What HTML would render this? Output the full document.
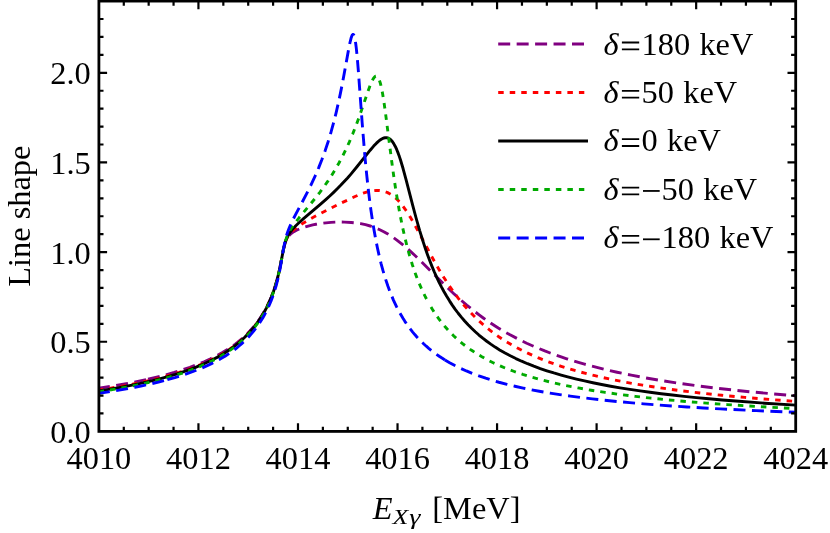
<!DOCTYPE html>
<html><head><meta charset="utf-8"><title>Line shape</title>
<style>
html,body{margin:0;padding:0;background:#fff;}
body{width:830px;height:533px;overflow:hidden;}
svg{display:block;will-change:transform;}
svg text{font-family:"Liberation Serif",serif;font-size:32.4px;fill:#000;}
</style></head><body>
<svg width="830" height="533" viewBox="0 0 830 533">
<rect x="0" y="0" width="830" height="533" fill="#fff"/>
<defs><clipPath id="cp"><rect x="98.90" y="1.08" width="696.80" height="430.32"/></clipPath></defs>
<g clip-path="url(#cp)">
<polyline points="98.90,388.26 112.14,386.17 124.69,383.97 136.54,381.68 147.69,379.29" fill="none" stroke="#800080" stroke-width="2.9" stroke-linejoin="round" stroke-dasharray="12.0 6.45" stroke-dashoffset="0.93"/>
<polyline points="147.17,379.41 156.57,377.19 165.64,374.86 174.17,372.44 182.19,369.95 189.86,367.33 197.17,364.59 204.14,361.72 210.59,358.79 216.69,355.74 222.44,352.58 227.84,349.30 230.63,347.48 233.07,345.80 235.33,344.13 237.77,342.22 242.48,338.25 244.57,336.33 246.83,334.14 248.40,332.57 250.67,330.16" fill="none" stroke="#800080" stroke-width="2.9" stroke-linejoin="round" stroke-dasharray="12.0 6.45" stroke-dashoffset="17.59"/>
<polyline points="250.14,330.73 253.45,326.98 256.42,323.30 259.20,319.50 261.99,315.30 264.43,311.25 266.87,306.75 268.96,302.47 271.05,297.70 272.80,293.25 274.54,288.28 276.11,283.24 277.67,277.50 278.89,272.44 279.94,267.62 283.42,249.54 284.12,246.54 284.82,244.03 285.86,241.08 286.91,238.87 287.61,237.68 288.30,236.66 289.00,235.78 289.87,234.82 290.74,233.99 291.79,233.12 293.88,231.67 296.49,230.23 299.45,228.90 303.11,227.56 307.30,226.29 312.70,224.93 316.01,224.28 320.89,223.49 325.94,222.85 330.99,222.38 335.87,222.12 340.23,222.04 344.41,222.12 351.20,222.48 355.74,222.90 360.61,223.63 365.49,224.67 370.20,225.99 374.73,227.58 379.26,229.49 383.79,231.74 388.32,234.32 392.85,237.23 396.86,240.07 401.04,243.28 405.39,246.88 409.92,250.85 414.98,255.51 420.55,260.87 441.99,282.34 447.39,287.60 453.83,293.68 460.46,299.67 466.73,305.07 473.00,310.18 479.45,315.15 483.28,317.97 487.11,320.69 490.95,323.30 495.13,326.05 498.27,328.03 501.93,330.22 509.59,334.58 517.96,338.98 526.67,343.20 535.55,347.16 544.79,350.95 550.19,353.02 555.59,355.00 561.17,356.94 566.74,358.79 572.49,360.61 578.42,362.40 584.52,364.15 590.79,365.87 603.68,369.15 617.10,372.23 631.21,375.17 646.20,378.00 661.88,380.66 678.26,383.17 695.51,385.56 713.46,387.81 732.45,389.96 752.49,392.01 773.57,393.96 795.70,395.81" fill="none" stroke="#800080" stroke-width="2.9" stroke-linejoin="round" stroke-dasharray="12.0 6.45" stroke-dashoffset="6.20"/>
<polyline points="98.90,390.01 110.75,388.14 122.07,386.18 132.70,384.16 142.98,382.02 152.74,379.78 161.98,377.45 170.86,374.99 179.23,372.44 187.24,369.75 194.73,366.98 201.88,364.06 208.67,361.01 215.12,357.80 221.22,354.44 226.97,350.94 232.37,347.30 234.81,345.49 237.60,343.27 240.21,341.08 242.83,338.75 245.26,336.44 248.23,333.46 252.06,329.22 254.15,326.71 256.07,324.27 257.98,321.67 259.90,318.91 261.64,316.22 263.39,313.36 265.13,310.29 266.70,307.33 268.09,304.51 269.48,301.49 271.92,295.64 274.19,289.38 276.28,282.66 277.67,277.51 279.07,271.68 280.46,265.05 283.42,249.52 284.30,245.78 285.17,242.75 286.21,239.92 286.91,238.39 287.61,237.07 288.30,235.92 289.17,234.65 290.05,233.53 291.09,232.34 292.48,230.93 293.88,229.66 295.45,228.38 297.19,227.06 301.37,224.22 306.77,220.93 312.87,217.46 319.14,214.16 330.64,208.27 340.58,203.36 355.04,196.53 359.39,194.67 363.23,193.23 367.24,191.98 370.89,191.12 372.64,190.82 374.38,190.61 376.12,190.50 377.69,190.47 379.43,190.55 381.17,190.75 382.92,191.08 384.49,191.48 386.05,192.01 387.62,192.65 389.19,193.43 390.76,194.33 392.33,195.37 393.89,196.56 395.46,197.88 396.86,199.18 398.25,200.60 399.82,202.32 401.39,204.19 402.96,206.19 405.22,209.31 407.66,212.95 410.10,216.86 412.89,221.58 418.29,231.33 428.74,251.04 433.62,260.02 438.85,269.20 443.90,277.54 447.04,282.43 450.00,286.85 452.61,290.60 455.58,294.66 458.54,298.54 461.50,302.24 464.46,305.77 467.60,309.33 470.56,312.53 473.52,315.59 476.66,318.68 479.80,321.62 482.93,324.42 486.24,327.24 489.55,329.93 493.04,332.62 496.18,334.93 499.14,337.00 502.97,339.53 506.63,341.83 510.29,344.02 514.12,346.21 517.96,348.29 521.96,350.36 527.19,352.92 532.42,355.32 537.82,357.65 543.40,359.91 549.15,362.10 555.07,364.23 561.17,366.28 567.44,368.27 573.89,370.19 580.68,372.09 587.65,373.92 594.80,375.69 602.12,377.38 609.78,379.05 617.62,380.66 625.64,382.20 634.00,383.71 642.71,385.18 651.08,386.51 660.14,387.87 669.55,389.19 679.31,390.47 699.87,392.94 721.65,395.25 744.82,397.41 769.39,399.43 795.70,401.35" fill="none" stroke="#ff0000" stroke-width="2.9" stroke-linejoin="round" stroke-dasharray="5.5 6.03" stroke-dashoffset="1.18"/>
<polyline points="98.90,390.94 111.97,388.86 124.34,386.67 136.01,384.38 147.17,381.95 157.79,379.38 167.73,376.71 177.14,373.89 186.02,370.93 194.39,367.83 198.39,366.22 202.40,364.52 206.23,362.80 209.89,361.06 213.55,359.22 217.04,357.37 220.52,355.41 223.83,353.43 226.97,351.45 230.28,349.23 232.89,347.37 235.16,345.65 237.95,343.39 240.56,341.15 244.74,337.28 249.27,332.62 253.11,328.22 255.02,325.83 256.76,323.53 258.51,321.10 260.25,318.53 263.39,313.47 264.95,310.70 266.35,308.08 268.96,302.70 271.40,296.99 273.49,291.43 275.41,285.61 277.15,279.54 278.37,274.73 279.59,269.34 280.81,263.31 283.25,250.34 284.12,246.37 284.99,243.09 286.04,239.96 287.26,237.11 288.65,234.52 290.22,232.14 291.79,230.10 293.70,227.90 295.80,225.73 298.41,223.22 303.81,218.42 319.14,205.44 325.77,199.64 329.77,195.99 333.61,192.37 337.27,188.79 340.92,185.08 347.55,178.03 350.51,174.59 356.95,166.78 370.20,150.19 373.68,146.12 376.47,143.17 377.86,141.85 379.26,140.66 380.48,139.74 381.70,138.97 382.92,138.35 383.96,137.97 385.01,137.73 386.05,137.66 386.75,137.71 387.62,137.90 388.32,138.15 389.19,138.59 390.06,139.19 390.76,139.79 391.63,140.69 392.33,141.54 393.72,143.58 395.29,146.43 396.68,149.46 398.25,153.41 399.30,156.34 400.52,160.03 403.13,168.78 405.92,179.05 412.71,205.37 416.02,217.75 419.68,230.60 423.34,242.42 425.43,248.73 427.52,254.70 429.61,260.34 431.88,266.10 434.14,271.52 436.41,276.62 438.85,281.78 441.29,286.62 443.90,291.49 446.69,296.33 449.65,301.11 452.27,305.10 455.23,309.31 458.19,313.25 461.33,317.16 464.64,321.01 468.12,324.79 471.61,328.31 475.27,331.77 478.93,335.01 482.76,338.17 486.77,341.27 490.77,344.16 495.13,347.10 499.66,349.93 505.06,353.03 510.29,355.82 515.86,358.57 521.61,361.20 527.54,363.72 533.81,366.19 540.26,368.54 546.88,370.78 553.85,372.98 561.17,375.11 568.66,377.13 576.50,379.10 584.52,380.96 592.88,382.77 601.59,384.52 610.65,386.20 620.06,387.83 629.82,389.39 640.10,390.92 650.03,392.29 661.18,393.72 672.34,395.04 684.01,396.33 696.21,397.58 708.93,398.79 722.17,399.95 735.76,401.07 764.68,403.19 795.70,405.15" fill="none" stroke="#000000" stroke-width="2.9" stroke-linejoin="round"/>
<polyline points="98.90,391.79 113.71,389.43 127.65,386.92 140.72,384.28 146.99,382.89 153.09,381.46 159.01,379.98 164.76,378.45 170.34,376.88 175.57,375.31 180.62,373.70 185.67,371.99 190.55,370.23 195.26,368.43 199.79,366.58 204.14,364.69 208.32,362.75 212.51,360.69 216.51,358.59 220.35,356.44 224.01,354.25 227.67,351.92 230.98,349.67 233.76,347.64 236.73,345.31 239.86,342.67 242.65,340.16 245.26,337.65 248.23,334.63 250.84,331.75 254.15,327.78 257.29,323.65 260.08,319.61 262.86,315.15 265.30,310.83 267.74,306.04 270.01,301.06 272.10,295.90 273.84,291.08 275.41,286.23 276.80,281.41 278.20,275.98 279.24,271.42 280.11,267.25 283.25,250.29 284.12,246.10 284.82,243.23 285.51,240.75 286.39,238.12 287.26,235.89 288.30,233.58 289.70,230.92 291.26,228.31 293.18,225.45 295.27,222.60 299.28,217.55 309.39,205.41 315.31,198.12 319.67,192.53 323.85,186.88 327.86,181.12 331.52,175.54 335.17,169.59 338.66,163.54 342.49,156.38 346.33,148.63 349.29,142.12 352.77,133.80 355.56,126.69 358.35,119.18 361.49,110.28 367.93,91.42 369.67,86.65 371.07,83.18 372.46,80.18 373.68,78.10 374.20,77.40 374.73,76.84 375.25,76.43 375.77,76.19 376.12,76.13 376.64,76.20 377.17,76.47 377.52,76.78 377.86,77.19 378.39,77.99 379.26,79.89 380.13,82.50 380.83,85.11 381.70,89.01 382.57,93.60 383.79,101.02 385.18,110.68 391.80,162.06 393.72,175.96 395.46,187.73 397.55,200.73 399.82,213.48 402.08,224.96 404.52,236.06 406.96,246.02 409.58,255.58 412.36,264.71 415.15,272.90 416.72,277.14 418.29,281.15 421.42,288.53 423.17,292.32 424.91,295.92 426.65,299.32 428.57,302.86" fill="none" stroke="#00aa00" stroke-width="2.9" stroke-linejoin="round" stroke-dasharray="5.5 6.03" stroke-dashoffset="0.24"/>
<polyline points="428.05,301.91 429.96,305.31 432.05,308.80 434.14,312.10 436.41,315.47 438.67,318.64 440.94,321.64 443.38,324.68 445.82,327.56 448.26,330.26 451.22,333.37 453.83,335.95 456.45,338.39 459.24,340.86 462.20,343.33 465.33,345.80 468.47,348.13 471.61,350.33 474.92,352.53 478.40,354.72 481.89,356.78 485.55,358.83 489.21,360.76 493.21,362.76 496.87,364.49 500.71,366.18 505.06,367.99 509.24,369.64 513.60,371.26 518.13,372.85 522.66,374.36 532.42,377.35 542.87,380.22 554.02,382.95 565.70,385.50 578.07,387.92 591.14,390.21 605.08,392.39 619.71,394.44 635.22,396.38 651.08,398.16 668.68,399.92 686.97,401.56 706.49,403.12 727.05,404.60 748.65,405.99 771.48,407.30 795.70,408.55" fill="none" stroke="#00aa00" stroke-width="2.9" stroke-linejoin="round" stroke-dasharray="5.5 6.03" stroke-dashoffset="5.61"/>
<polyline points="98.90,393.35 108.48,391.90 117.72,390.40 126.43,388.87 134.97,387.25 143.16,385.58 151.00,383.84 158.49,382.05 165.64,380.20" fill="none" stroke="#0000ff" stroke-width="2.9" stroke-linejoin="round" stroke-dasharray="12.0 6.45" stroke-dashoffset="1.00"/>
<polyline points="165.11,380.34 174.87,377.59 183.93,374.73 192.47,371.73 196.65,370.13 200.66,368.50 204.49,366.86 208.32,365.12 211.98,363.36 215.47,361.58 218.95,359.70 222.26,357.81 225.40,355.91 228.54,353.89 231.50,351.87 233.94,350.10 236.55,348.06 239.34,345.75 241.78,343.61 244.22,341.34 246.83,338.74 249.27,336.17 251.54,333.62 253.63,331.11 255.72,328.43 257.64,325.82 259.55,323.03 261.29,320.33 263.04,317.44 264.78,314.34 266.52,311.00 268.09,307.76 269.66,304.25 271.05,300.88 272.45,297.22 273.67,293.74 274.89,289.95 276.11,285.80 277.85,279.08 279.59,271.13 280.98,263.68 283.42,249.19 284.64,242.92 285.34,239.90 286.21,236.62 287.08,233.76 288.13,230.74 289.17,228.03 290.22,225.54 293.01,219.58 295.80,214.13 303.46,199.77 307.30,192.38 311.13,184.61 314.96,176.35 318.62,167.86 321.93,159.51 325.24,150.39 328.20,141.44 330.99,132.21 333.61,122.73 336.05,113.04 338.48,102.44 340.40,93.41 342.32,83.76 344.23,73.52 348.42,50.37 349.29,45.86 350.16,41.77 351.03,38.33 351.73,36.22 352.08,35.42 352.60,34.63 352.77,34.53 353.12,34.46 353.30,34.46 353.47,34.60 353.82,35.09 353.99,35.46 354.34,36.42 354.86,38.51 355.39,41.38 355.74,43.73 356.26,47.89 356.78,52.78 357.48,60.28 358.35,70.90 362.18,122.99 364.45,150.93 365.67,164.31 366.89,176.55 368.11,187.73 369.50,199.34 370.89,209.83 372.46,220.49 374.03,230.09 375.60,238.77 377.34,247.50 379.08,255.40 381.00,263.27 382.92,270.39 385.36,278.55 387.97,286.33 390.76,293.72 393.55,300.33 396.51,306.64 398.08,309.71 399.82,312.94 403.13,318.58 404.87,321.33 406.79,324.18 408.71,326.88 410.62,329.43 412.71,332.07 414.80,334.56 416.89,336.92 419.16,339.35 421.42,341.64 423.86,343.99 426.30,346.21 428.74,348.32 431.18,350.32 433.80,352.35 436.41,354.28 439.20,356.23 441.99,358.08 444.95,359.94" fill="none" stroke="#0000ff" stroke-width="2.9" stroke-linejoin="round" stroke-dasharray="12.0 6.45" stroke-dashoffset="16.07"/>
<polyline points="444.42,359.62 449.65,362.70 454.88,365.52 460.46,368.28 466.38,370.95 472.48,373.46 478.93,375.90 485.72,378.24 492.69,380.45 498.96,382.26 506.98,384.36 514.82,386.25 523.18,388.09 531.72,389.81 540.61,391.46 550.02,393.06 559.77,394.58 570.23,396.08 581.03,397.51 592.36,398.87 604.21,400.19 616.58,401.45 629.65,402.67 643.59,403.86 656.83,404.89 671.64,405.96 687.15,406.98 703.35,407.96 720.25,408.90 756.32,410.66 795.70,412.29" fill="none" stroke="#0000ff" stroke-width="2.9" stroke-linejoin="round" stroke-dasharray="12.0 6.45" stroke-dashoffset="17.88"/>
</g>
<path d="M123.79 431.40v-4.6 M123.79 1.08v4.6 M148.67 431.40v-4.6 M148.67 1.08v4.6 M173.56 431.40v-4.6 M173.56 1.08v4.6 M198.44 431.40v-8.2 M198.44 1.08v8.2 M223.33 431.40v-4.6 M223.33 1.08v4.6 M248.21 431.40v-4.6 M248.21 1.08v4.6 M273.10 431.40v-4.6 M273.10 1.08v4.6 M297.99 431.40v-8.2 M297.99 1.08v8.2 M322.87 431.40v-4.6 M322.87 1.08v4.6 M347.76 431.40v-4.6 M347.76 1.08v4.6 M372.64 431.40v-4.6 M372.64 1.08v4.6 M397.53 431.40v-8.2 M397.53 1.08v8.2 M422.41 431.40v-4.6 M422.41 1.08v4.6 M447.30 431.40v-4.6 M447.30 1.08v4.6 M472.19 431.40v-4.6 M472.19 1.08v4.6 M497.07 431.40v-8.2 M497.07 1.08v8.2 M521.96 431.40v-4.6 M521.96 1.08v4.6 M546.84 431.40v-4.6 M546.84 1.08v4.6 M571.73 431.40v-4.6 M571.73 1.08v4.6 M596.61 431.40v-8.2 M596.61 1.08v8.2 M621.50 431.40v-4.6 M621.50 1.08v4.6 M646.39 431.40v-4.6 M646.39 1.08v4.6 M671.27 431.40v-4.6 M671.27 1.08v4.6 M696.16 431.40v-8.2 M696.16 1.08v8.2 M721.04 431.40v-4.6 M721.04 1.08v4.6 M745.93 431.40v-4.6 M745.93 1.08v4.6 M770.81 431.40v-4.6 M770.81 1.08v4.6 M98.90 413.47h4.6 M795.70 413.47h-4.6 M98.90 395.54h4.6 M795.70 395.54h-4.6 M98.90 377.61h4.6 M795.70 377.61h-4.6 M98.90 359.68h4.6 M795.70 359.68h-4.6 M98.90 341.75h8.2 M795.70 341.75h-8.2 M98.90 323.82h4.6 M795.70 323.82h-4.6 M98.90 305.89h4.6 M795.70 305.89h-4.6 M98.90 287.96h4.6 M795.70 287.96h-4.6 M98.90 270.03h4.6 M795.70 270.03h-4.6 M98.90 252.10h8.2 M795.70 252.10h-8.2 M98.90 234.17h4.6 M795.70 234.17h-4.6 M98.90 216.24h4.6 M795.70 216.24h-4.6 M98.90 198.31h4.6 M795.70 198.31h-4.6 M98.90 180.38h4.6 M795.70 180.38h-4.6 M98.90 162.45h8.2 M795.70 162.45h-8.2 M98.90 144.52h4.6 M795.70 144.52h-4.6 M98.90 126.59h4.6 M795.70 126.59h-4.6 M98.90 108.66h4.6 M795.70 108.66h-4.6 M98.90 90.73h4.6 M795.70 90.73h-4.6 M98.90 72.80h8.2 M795.70 72.80h-8.2 M98.90 54.87h4.6 M795.70 54.87h-4.6 M98.90 36.94h4.6 M795.70 36.94h-4.6 M98.90 19.01h4.6 M795.70 19.01h-4.6" stroke="#000" stroke-width="2.2" fill="none"/>
<rect x="98.90" y="1.08" width="696.80" height="430.32" fill="none" stroke="#000" stroke-width="2.8"/>
<g>
<text x="98.90" y="468.8" text-anchor="middle">4010</text>
<text x="198.44" y="468.8" text-anchor="middle">4012</text>
<text x="297.99" y="468.8" text-anchor="middle">4014</text>
<text x="397.53" y="468.8" text-anchor="middle">4016</text>
<text x="497.07" y="468.8" text-anchor="middle">4018</text>
<text x="596.61" y="468.8" text-anchor="middle">4020</text>
<text x="696.16" y="468.8" text-anchor="middle">4022</text>
<text x="795.70" y="468.8" text-anchor="middle">4024</text>
<text x="90.7" y="443.00" text-anchor="end">0.0</text>
<text x="90.7" y="353.35" text-anchor="end">0.5</text>
<text x="90.7" y="263.70" text-anchor="end">1.0</text>
<text x="90.7" y="174.05" text-anchor="end">1.5</text>
<text x="90.7" y="84.40" text-anchor="end">2.0</text>
</g>
<g>
<path d="M498.2 44.00H584.3" stroke="#800080" stroke-width="2.9" fill="none" stroke-dasharray="12 6.45"/>
<text x="603.6" y="54.60" font-style="italic">δ</text>
<path d="M621.9 42.50H639.2M621.9 49.30H639.2" stroke="#000" stroke-width="1.8" fill="none"/>
<text x="641.5" y="54.60">180</text>
<text x="699.40" y="54.60">keV</text>
<path d="M498.2 92.50H584.3" stroke="#ff0000" stroke-width="2.9" fill="none" stroke-dasharray="5.5 6.03"/>
<text x="603.6" y="102.95" font-style="italic">δ</text>
<path d="M621.9 90.85H639.2M621.9 97.65H639.2" stroke="#000" stroke-width="1.8" fill="none"/>
<text x="641.5" y="102.95">50</text>
<text x="683.20" y="102.95">keV</text>
<path d="M498.2 141.00H588" stroke="#000000" stroke-width="2.9" fill="none"/>
<text x="603.6" y="151.30" font-style="italic">δ</text>
<path d="M621.9 139.20H639.2M621.9 146.00H639.2" stroke="#000" stroke-width="1.8" fill="none"/>
<text x="641.5" y="151.30">0</text>
<text x="667.00" y="151.30">keV</text>
<path d="M498.2 189.50H584.3" stroke="#00aa00" stroke-width="2.9" fill="none" stroke-dasharray="5.5 6.03"/>
<text x="603.6" y="199.65" font-style="italic">δ</text>
<path d="M621.9 187.55H639.2M621.9 194.35H639.2" stroke="#000" stroke-width="1.8" fill="none"/>
<path d="M643 190.95H659.7" stroke="#000" stroke-width="1.8" fill="none"/>
<text x="661.6" y="199.65">50</text>
<text x="703.30" y="199.65">keV</text>
<path d="M498.2 238.00H584.3" stroke="#0000ff" stroke-width="2.9" fill="none" stroke-dasharray="12 6.45"/>
<text x="603.6" y="248.00" font-style="italic">δ</text>
<path d="M621.9 235.90H639.2M621.9 242.70H639.2" stroke="#000" stroke-width="1.8" fill="none"/>
<path d="M643 239.30H659.7" stroke="#000" stroke-width="1.8" fill="none"/>
<text x="661.6" y="248.00">180</text>
<text x="719.50" y="248.00">keV</text>
</g>
<text transform="translate(30.3 216.2) rotate(-90)" text-anchor="middle">Line shape</text>
<text x="372.8" y="519.4" font-style="italic">E</text>
<text transform="translate(392.6 523.7) scale(1.19 1)" font-style="italic" style="font-size:21.8px">X</text>
<text transform="translate(409.3 523.7) scale(1.3 1)" font-style="italic" style="font-size:21.8px">γ</text>
<text x="432.3" y="519.4">[MeV]</text>
</svg>
</body></html>
